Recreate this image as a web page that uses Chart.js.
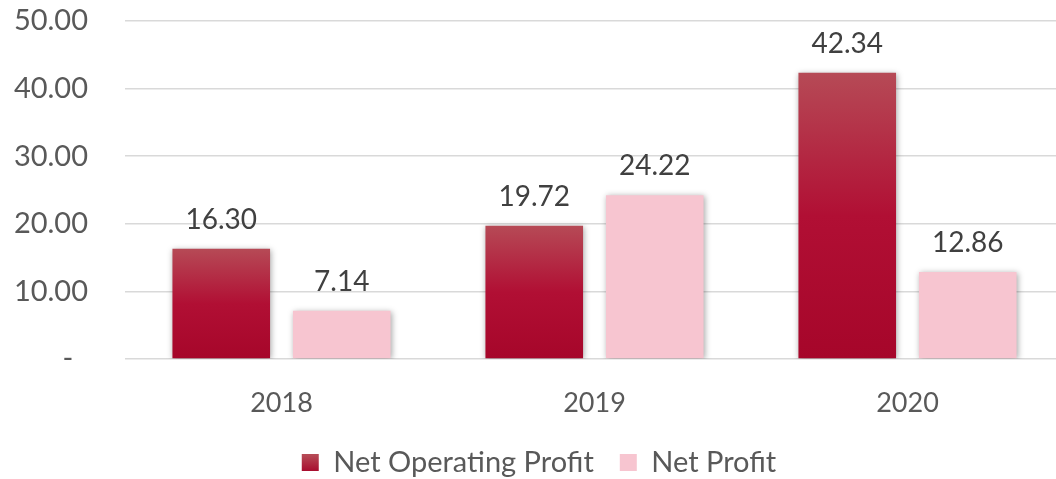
<!DOCTYPE html>
<html>
<head>
<meta charset="utf-8">
<script src="https://cdn.jsdelivr.net/npm/chart.js@4.4.1/dist/chart.umd.min.js"></script>
<style>
    html, body { margin: 0; padding: 0; background: #fff; overflow: hidden; }
    #wrap { width: 1064px; height: 479px; }
</style>
</head>
<body>
<div id="wrap"><canvas id="barChart"></canvas></div>
<script>
// chart data
const years = ['2018', '2019', '2020'];
const netOperatingProfit = [16.30, 19.72, 42.34];
const netProfit = [7.14, 24.22, 12.86];
const yTicks = [0, 10, 20, 30, 40, 50];

const FONT = 'Lato, "Liberation Sans", sans-serif';

function redGradient(ctx) {
    let chart = ctx.chart;
    if (!chart.chartArea || ctx.type !== 'data') return '#ad0f30';
    let y = chart.scales.y;
    let top = y.getPixelForValue(ctx.raw);
    let bottom = y.getPixelForValue(0);
    let g = chart.ctx.createLinearGradient(0, top, 0, bottom);
    g.addColorStop(0, '#b64a56');
    g.addColorStop(0.5, '#b10f34');
    g.addColorStop(1, '#a6062a');
    return g;
}

// soft shadow round the bars
const barShadow = {
    id: 'barShadow',
    beforeDatasetsDraw(chart) {
        let c = chart.ctx;
        c.save();
        c.shadowColor = 'rgba(0,0,0,0.35)';
        c.shadowBlur = 6;
        c.shadowOffsetX = 1;
        c.shadowOffsetY = 1;
    },
    afterDatasetsDraw(chart) {
        chart.ctx.restore();
    }
};

// value labels above bars
const valueLabels = {
    id: 'valueLabels',
    afterDatasetsDraw(chart) {
        let c = chart.ctx;
        c.save();
        c.font = '28px ' + FONT;
        c.fillStyle = '#404040';
        c.textAlign = 'center';
        c.textBaseline = 'alphabetic';
        chart.data.datasets.forEach((ds, i) => {
            chart.getDatasetMeta(i).data.forEach((bar, j) => {
                c.fillText(ds.data[j].toFixed(2), bar.x, bar.y - 20);
            });
        });
        c.restore();
    }
};

new Chart(document.getElementById('barChart'), {
    type: 'bar',
    data: {
        labels: years,
        datasets: [{
                label: 'Net Operating Profit',
                data: netOperatingProfit,
                backgroundColor: redGradient,
            },
            {
                label: 'Net Profit',
                data: netProfit,
                backgroundColor: '#f7c5d0',
            }
        ]
    },
    options: {
        responsive: true,
        maintainAspectRatio: false,
        animation: false,
        categoryPercentage: 0.77,
        barPercentage: 0.81,
        layout: {
            padding: { top: 21, right: 0, bottom: -8, left: 14 }
        },
        plugins: {
            tooltip: { enabled: false },
            legend: {
                position: 'bottom',
                labels: {
                    font: { family: FONT, size: 29 },
                    color: '#595959',
                    boxWidth: 17,
                    boxHeight: 17,
                    padding: 26,
                    generateLabels(chart) {
                        let items = Chart.defaults.plugins.legend.labels.generateLabels(chart);
                        let g = chart.ctx.createLinearGradient(0, 455, 0, 473);
                        g.addColorStop(0, '#b64a56');
                        g.addColorStop(1, '#a6062a');
                        items[0].fillStyle = g;
                        items.forEach(it => { it.strokeStyle = 'rgba(0,0,0,0)'; it.lineWidth = 0; });
                        return items;
                    }
                }
            }
        },
        scales: {
            x: {
                grid: { display: false },
                border: { display: false },
                afterFit(scale) {
                    scale.height = 63;
                    scale.paddingLeft = 0;
                    scale.paddingRight = 0;
                },
                ticks: {
                    font: { family: FONT, size: 27 },
                    color: '#595959',
                    padding: 20
                }
            },
            y: {
                min: 0,
                max: 50,
                afterBuildTicks(scale) {
                    scale.ticks = yTicks.map(v => ({ value: v }));
                },
                afterFit(scale) {
                    scale.width = 111;
                    scale.paddingTop = 0;
                    scale.paddingBottom = 0;
                },
                grid: {
                    color: '#d9d9d9',
                    lineWidth: 1.5,
                    drawTicks: false
                },
                border: { display: false },
                ticks: {
                    font: { family: FONT, size: 29 },
                    color: '#595959',
                    padding: 37,
                    callback: v => v === 0 ? '-  ' : v.toFixed(2)
                }
            }
        }
    },
    plugins: [barShadow, valueLabels]
});
</script>
</body>
</html>
